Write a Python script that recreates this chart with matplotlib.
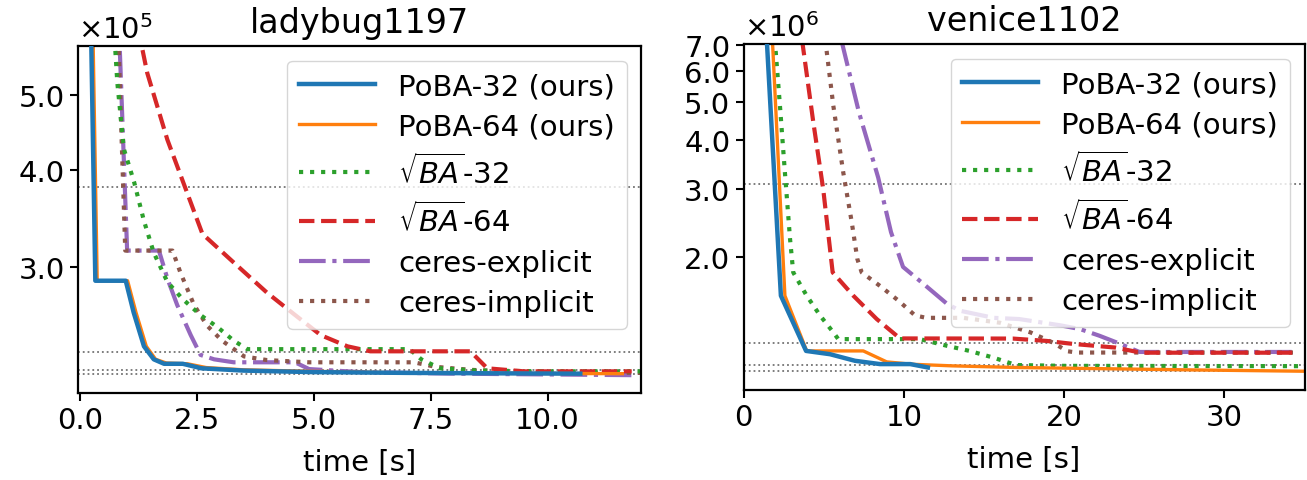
import matplotlib
matplotlib.use("Agg")
import matplotlib.pyplot as plt
from matplotlib.ticker import FixedLocator, NullLocator, FixedFormatter

# ---------------- ladybug1197 (cost in units of 1e5) ----------------
lb_poba32_t = [0.23, 0.33, 0.98, 1.15, 1.37, 1.58, 1.80, 2.20, 2.60, 3.5, 5.0, 7.0, 9.0, 10.7]
lb_poba32_y = [6.5, 2.88, 2.88, 2.62, 2.37, 2.28, 2.25, 2.25, 2.22, 2.205, 2.195, 2.19, 2.187, 2.185]
lb_poba64_t = [0.27, 0.37, 1.02, 1.20, 1.42, 1.62, 1.85, 2.30, 2.70, 3.5, 5.0, 7.0, 9.0, 11.6]
lb_poba64_y = [6.5, 2.88, 2.88, 2.62, 2.37, 2.28, 2.255, 2.25, 2.225, 2.21, 2.20, 2.19, 2.187, 2.185]
lb_sba32_t = [0.70, 0.80, 0.94, 1.16, 1.37, 1.58, 1.87, 2.19, 2.58, 2.94, 3.29, 3.58, 7.05, 7.3, 7.7, 8.5, 10.0, 12.0]
lb_sba32_y = [6.5, 5.19, 4.26, 3.86, 3.44, 3.13, 2.87, 2.73, 2.60, 2.51, 2.41, 2.35, 2.35, 2.28, 2.22, 2.205, 2.20, 2.20]
lb_sba64_t = [1.15, 1.44, 1.87, 2.30, 2.62, 3.29, 4.0, 4.57, 5.15, 5.72, 6.21, 8.35, 8.71, 9.5, 11.8]
lb_sba64_y = [6.5, 5.34, 4.38, 3.73, 3.31, 3.04, 2.78, 2.61, 2.45, 2.37, 2.335, 2.335, 2.22, 2.20, 2.20]
lb_cexp_t = [0.82, 1.01, 1.69, 1.87, 2.08, 2.37, 2.58, 2.87, 3.29, 4.6, 4.9, 6.0, 8.0, 11.9]
lb_cexp_y = [6.5, 3.15, 3.15, 2.90, 2.68, 2.45, 2.31, 2.28, 2.26, 2.26, 2.215, 2.195, 2.185, 2.175]
lb_cimp_t = [0.80, 0.97, 1.98, 2.15, 2.44, 2.72, 3.04, 3.51, 4.0, 4.9, 7.14, 7.6, 8.35, 9.5, 12.0]
lb_cimp_y = [6.5, 3.15, 3.15, 2.95, 2.68, 2.52, 2.41, 2.30, 2.275, 2.26, 2.26, 2.23, 2.21, 2.195, 2.19]
lb_hlines = [3.805, 2.331, 2.209, 2.183]
lb_yticks = [3.0, 4.0, 5.0]

# ---------------- venice1102 (cost in units of 1e6) ----------------
ve_poba32_t = [1.45, 2.33, 3.90, 5.39, 6.95, 8.51, 10.4, 11.5]
ve_poba32_y = [7.2, 1.595, 1.152, 1.13, 1.087, 1.066, 1.066, 1.045]
ve_poba64_t = [1.80, 2.58, 3.94, 7.47, 8.93, 10.5, 13.0, 17.0, 22.0, 28.0, 35.0]
ve_poba64_y = [7.2, 1.595, 1.152, 1.152, 1.08, 1.065, 1.055, 1.045, 1.038, 1.03, 1.022]
ve_sba32_t = [1.95, 2.27, 2.58, 2.90, 3.10, 3.94, 4.77, 5.60, 5.91, 11.0, 12.7, 14.1, 15.6, 17.0, 20.0, 35.0]
ve_sba32_y = [7.2, 4.89, 3.30, 2.23, 1.83, 1.595, 1.42, 1.285, 1.235, 1.235, 1.187, 1.152, 1.107, 1.06, 1.055, 1.053]
ve_sba64_t = [3.65, 4.35, 4.97, 5.56, 6.85, 8.31, 9.76, 16.8, 18.9, 20.6, 23.2, 24.8, 34.6]
ve_sba64_y = [7.2, 4.44, 2.99, 1.83, 1.595, 1.39, 1.24, 1.239, 1.222, 1.20, 1.175, 1.14, 1.14]
ve_cexp_t = [6.1, 7.2, 8.4, 9.2, 9.95, 11.3, 12.7, 13.5, 15.6, 17.2, 19.75, 21.0, 22.2, 23.3, 24.7, 34.6]
ve_cexp_y = [7.2, 4.7, 3.2, 2.32, 1.89, 1.70, 1.52, 1.46, 1.40, 1.39, 1.34, 1.31, 1.26, 1.21, 1.145, 1.145]
ve_cimp_t = [5.1, 5.60, 6.22, 6.75, 7.10, 7.37, 8.51, 9.66, 10.7, 11.4, 13.7, 16.0, 17.9, 19.3, 20.2, 20.8, 34.6]
ve_cimp_y = [7.2, 4.89, 3.30, 2.46, 1.98, 1.83, 1.69, 1.55, 1.42, 1.40, 1.40, 1.36, 1.285, 1.21, 1.15, 1.141, 1.141]
ve_hlines = [3.077, 1.204, 1.059, 1.021]
ve_yticks = [2.0, 3.0, 4.0, 5.0, 6.0, 7.0]

labels = ['PoBA-32 (ours)', 'PoBA-64 (ours)', r'$\sqrt{BA}$-32',
          r'$\sqrt{BA}$-64', 'ceres-explicit', 'ceres-implicit']
colors = ['#1f77b4', '#ff7f0e', '#2ca02c', '#d62728', '#9467bd', '#8c564b']
styles = ['-', '-', ':', '--', '-.', ':']
widths = [3.2, 2.4, 3.0, 3.0, 3.0, 3.0]
zorders = [2.6, 2.5, 2.2, 2.3, 2.0, 2.1]

FS = 21
fig = plt.figure(figsize=(13.07, 4.81), dpi=100)
ax1 = fig.add_axes([0.0597, 0.1809, 0.4308, 0.7214])
ax2 = fig.add_axes([0.5689, 0.1871, 0.4292, 0.7193])

panels = [
    (ax1, 'ladybug1197', 5,
     [(lb_poba32_t, lb_poba32_y), (lb_poba64_t, lb_poba64_y), (lb_sba32_t, lb_sba32_y),
      (lb_sba64_t, lb_sba64_y), (lb_cexp_t, lb_cexp_y), (lb_cimp_t, lb_cimp_y)],
     lb_hlines, lb_yticks, (-0.04, 12.0), (2.063, 5.786), [0, 2.5, 5, 7.5, 10]),
    (ax2, 'venice1102', 6,
     [(ve_poba32_t, ve_poba32_y), (ve_poba64_t, ve_poba64_y), (ve_sba32_t, ve_sba32_y),
      (ve_sba64_t, ve_sba64_y), (ve_cexp_t, ve_cexp_y), (ve_cimp_t, ve_cimp_y)],
     ve_hlines, ve_yticks, (0, 35), (0.915, 7.03), [0, 10, 20, 30]),
]

for ax, title, exp, series, hl, yt, xl, yl, xt in panels:
    for h in hl:
        ax.axhline(h, color='0.45', ls=':', lw=1.3, zorder=1)
    for (t, y), lab, c, s, w, z in zip(series, labels, colors, styles, widths, zorders):
        ax.plot(t, y, color=c, ls=s, lw=w, label=lab, zorder=z)
    ax.set_yscale('log')
    ax.set_xlim(*xl)
    ax.set_ylim(*yl)
    ax.yaxis.set_major_locator(FixedLocator(yt))
    ax.yaxis.set_major_formatter(FixedFormatter(['%.1f' % v for v in yt]))
    ax.yaxis.set_minor_locator(NullLocator())
    ax.set_xticks(xt)
    if exp == 5:
        ax.set_xticklabels(['%.1f' % v for v in xt])
    ax.tick_params(labelsize=FS, width=1.5, length=6)
    for sp in ax.spines.values():
        sp.set_linewidth(1.6)
    ax.set_title(title, fontsize=24, pad=10)
    ax.set_xlabel('time [s]', fontsize=FS, labelpad=10)
    ax.text(0.0, 1.005, r'$\times10^{%d}$' % exp, transform=ax.transAxes,
            fontsize=FS, ha='left', va='bottom')
    ax.legend(loc='upper right', fontsize=FS, handlelength=2.6, labelspacing=0.42)

fig.savefig('out.png', dpi=100)
